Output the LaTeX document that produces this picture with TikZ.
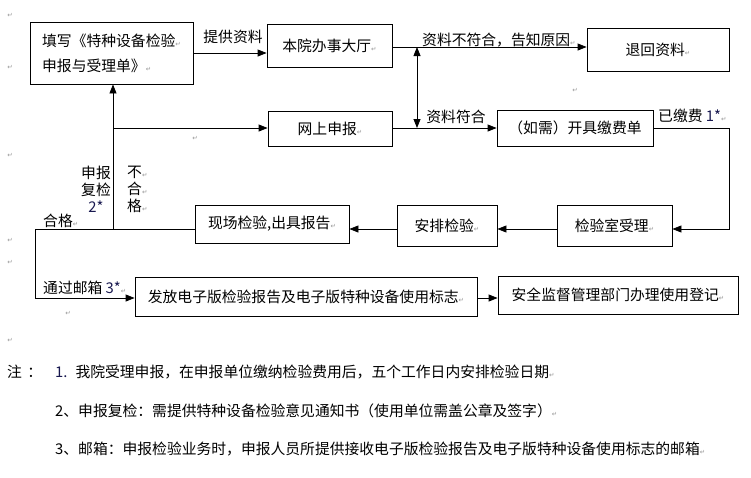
\documentclass[tikz,border=0pt]{standalone}
\usepackage{fontspec}
\setmainfont{Noto Sans CJK SC}
\newfontfamily\djv{DejaVu Sans}
\usetikzlibrary{arrows.meta,calc}
\definecolor{pmgray}{RGB}{150,150,150}
\definecolor{starblue}{RGB}{25,25,80}
\newcommand\pmk{{\djv\fontsize{6.5}{7}\selectfont\color{pmgray}↵}}
\newcommand\fs{\fontsize{14.8}{17}\selectfont}
\begin{document}
\begin{tikzpicture}[x=1pt,y=-1pt,
  box/.style={draw, line width=0.8pt, inner sep=0pt, font=\fs},
  lab/.style={inner sep=0pt, font=\fs},
  pm/.style={inner sep=0pt},
  conn/.style={line width=0.8pt},
  arr/.style={line width=0.8pt, -{Triangle[length=9pt,width=7pt]}},
  darr/.style={line width=0.8pt, {Triangle[length=9pt,width=7pt]}-{Triangle[length=9pt,width=7pt]}}]
\useasboundingbox (0,0) rectangle (751,477);

% boxes
\node[box, minimum width=163pt, minimum height=62pt, align=left, font=\fontsize{14.8}{25}\selectfont] (A) at (111.5,53) {填写《特种设备检验\pmk\\申报与受理单》\pmk};
\node[box, minimum width=125pt, minimum height=43pt] (B) at (329.5,45.5) {本院办事大厅\pmk};
\node[box, minimum width=124pt, minimum height=35pt] (C) at (330,128.5) {网上申报\pmk};
\node[box, minimum width=142pt, minimum height=43pt] (D) at (658,49.5) {退回资料\pmk};
\node[box, minimum width=156pt, minimum height=36pt] (E) at (575,128) {（如需）开具缴费单};
\node[box, minimum width=115pt, minimum height=41pt] (F) at (614.5,225.5) {检验室受理\pmk};
\node[box, minimum width=100pt, minimum height=41pt] (G) at (447,225.5) {安排检验\pmk};
\node[box, minimum width=154pt, minimum height=38pt] (H) at (272,224) {现场检验,出具报告\pmk};
\node[box, minimum width=342pt, minimum height=39pt] (I) at (306,296.5) {发放电子版检验报告及电子版特种设备使用标志\pmk};
\node[box, minimum width=240pt, minimum height=38pt] (J) at (618,295) {安全监督管理部门办理使用登记\pmk};

% helper coordinates
\coordinate (v1) at (417,47);
\coordinate (v2) at (417,128);
\coordinate (ecorner) at (729,128);
\coordinate (r2) at (0,229);
\coordinate (lc1) at (35,229);
\coordinate (lc2) at (35,298);
\coordinate (vb) at (113,229);
\coordinate (vbr) at (113,128);
\coordinate (r3) at (0,298);

% connectors
\draw[arr] (A.east) -- (A.east -| B.west);
\draw[arr] ([yshift=-1.5pt]B.east) -- ([yshift=-1.5pt]B.east -| D.west);
\draw[darr] (v1) -- (v2);
\draw[arr] (C.east |- v2) -- (E.west |- v2);
\draw[arr] (E.east) -- (ecorner) |- (F.east |- r2);
\draw[arr] (F.west |- r2) -- (G.east |- r2);
\draw[arr] (G.west |- r2) -- (H.east |- r2);
\draw[conn] (H.west |- r2) -- (lc1);
\draw[arr] (lc1) -- (lc2) -- (I.west |- lc2);
\draw[arr] (vb) -- (A.south -| vb);
\draw[arr] (vbr) -- (C.west |- vbr);
\draw[arr] (I.east |- r3) -- (J.west |- r3);

% labels
\node[lab] (lA) at (233,37) {提供资料};
\node[lab, anchor=west] (lB) at (422,40) {资料不符合，告知原因\pmk};
\node[lab] (lC) at (456,117) {资料符合};
\node[lab, anchor=west] (lE) at (658,116) {已缴费 \textcolor{starblue}{1*}\pmk};
\node[lab, align=center] (lR) at (96,189) {申报\\复检\\\textcolor{starblue}{2*}};
\node[lab, align=left, anchor=west] (lN) at (127,189) {不\pmk\\合\pmk\\格\pmk};
\node[lab, anchor=west] (lP) at (43,221) {合格\pmk};
\node[lab, anchor=west] (lM) at (43,288) {通过邮箱 \textcolor{starblue}{3*}\pmk};

% notes
\node[lab, anchor=west] (n0) at (7,372) {注 \hspace{2pt}：};
\node[lab, anchor=west] (n1) at (55,372) {\textcolor{starblue}{1.}\hspace{8pt}我院受理申报，在申报单位缴纳检验费用后，五个工作日内安排检验日期\pmk};
\node[lab, anchor=west] (n2) at (55,411) {2、申报复检：需提供特种设备检验意见通知书（使用单位需盖公章及签字）\pmk};
\node[lab, anchor=west] (n3) at (55,449) {3、邮箱：申报检验业务时，申报人员所提供接收电子版检验报告及电子版特种设备使用标志的邮箱\pmk};

% stray paragraph marks
\node[pm] (p1) at (10,15) {\pmk};
\node[pm] (p2) at (10,67) {\pmk};
\node[pm] (p3) at (10,155) {\pmk};
\node[pm] (p4) at (10,240) {\pmk};
\node[pm] (p5) at (10,262) {\pmk};
\node[pm] (p6) at (10,340) {\pmk};
\node[pm] (p7) at (195,138) {\pmk};
\node[pm] (p8) at (575,90) {\pmk};
\node[pm] (p9) at (68,313) {\pmk};
\end{tikzpicture}
\end{document}
